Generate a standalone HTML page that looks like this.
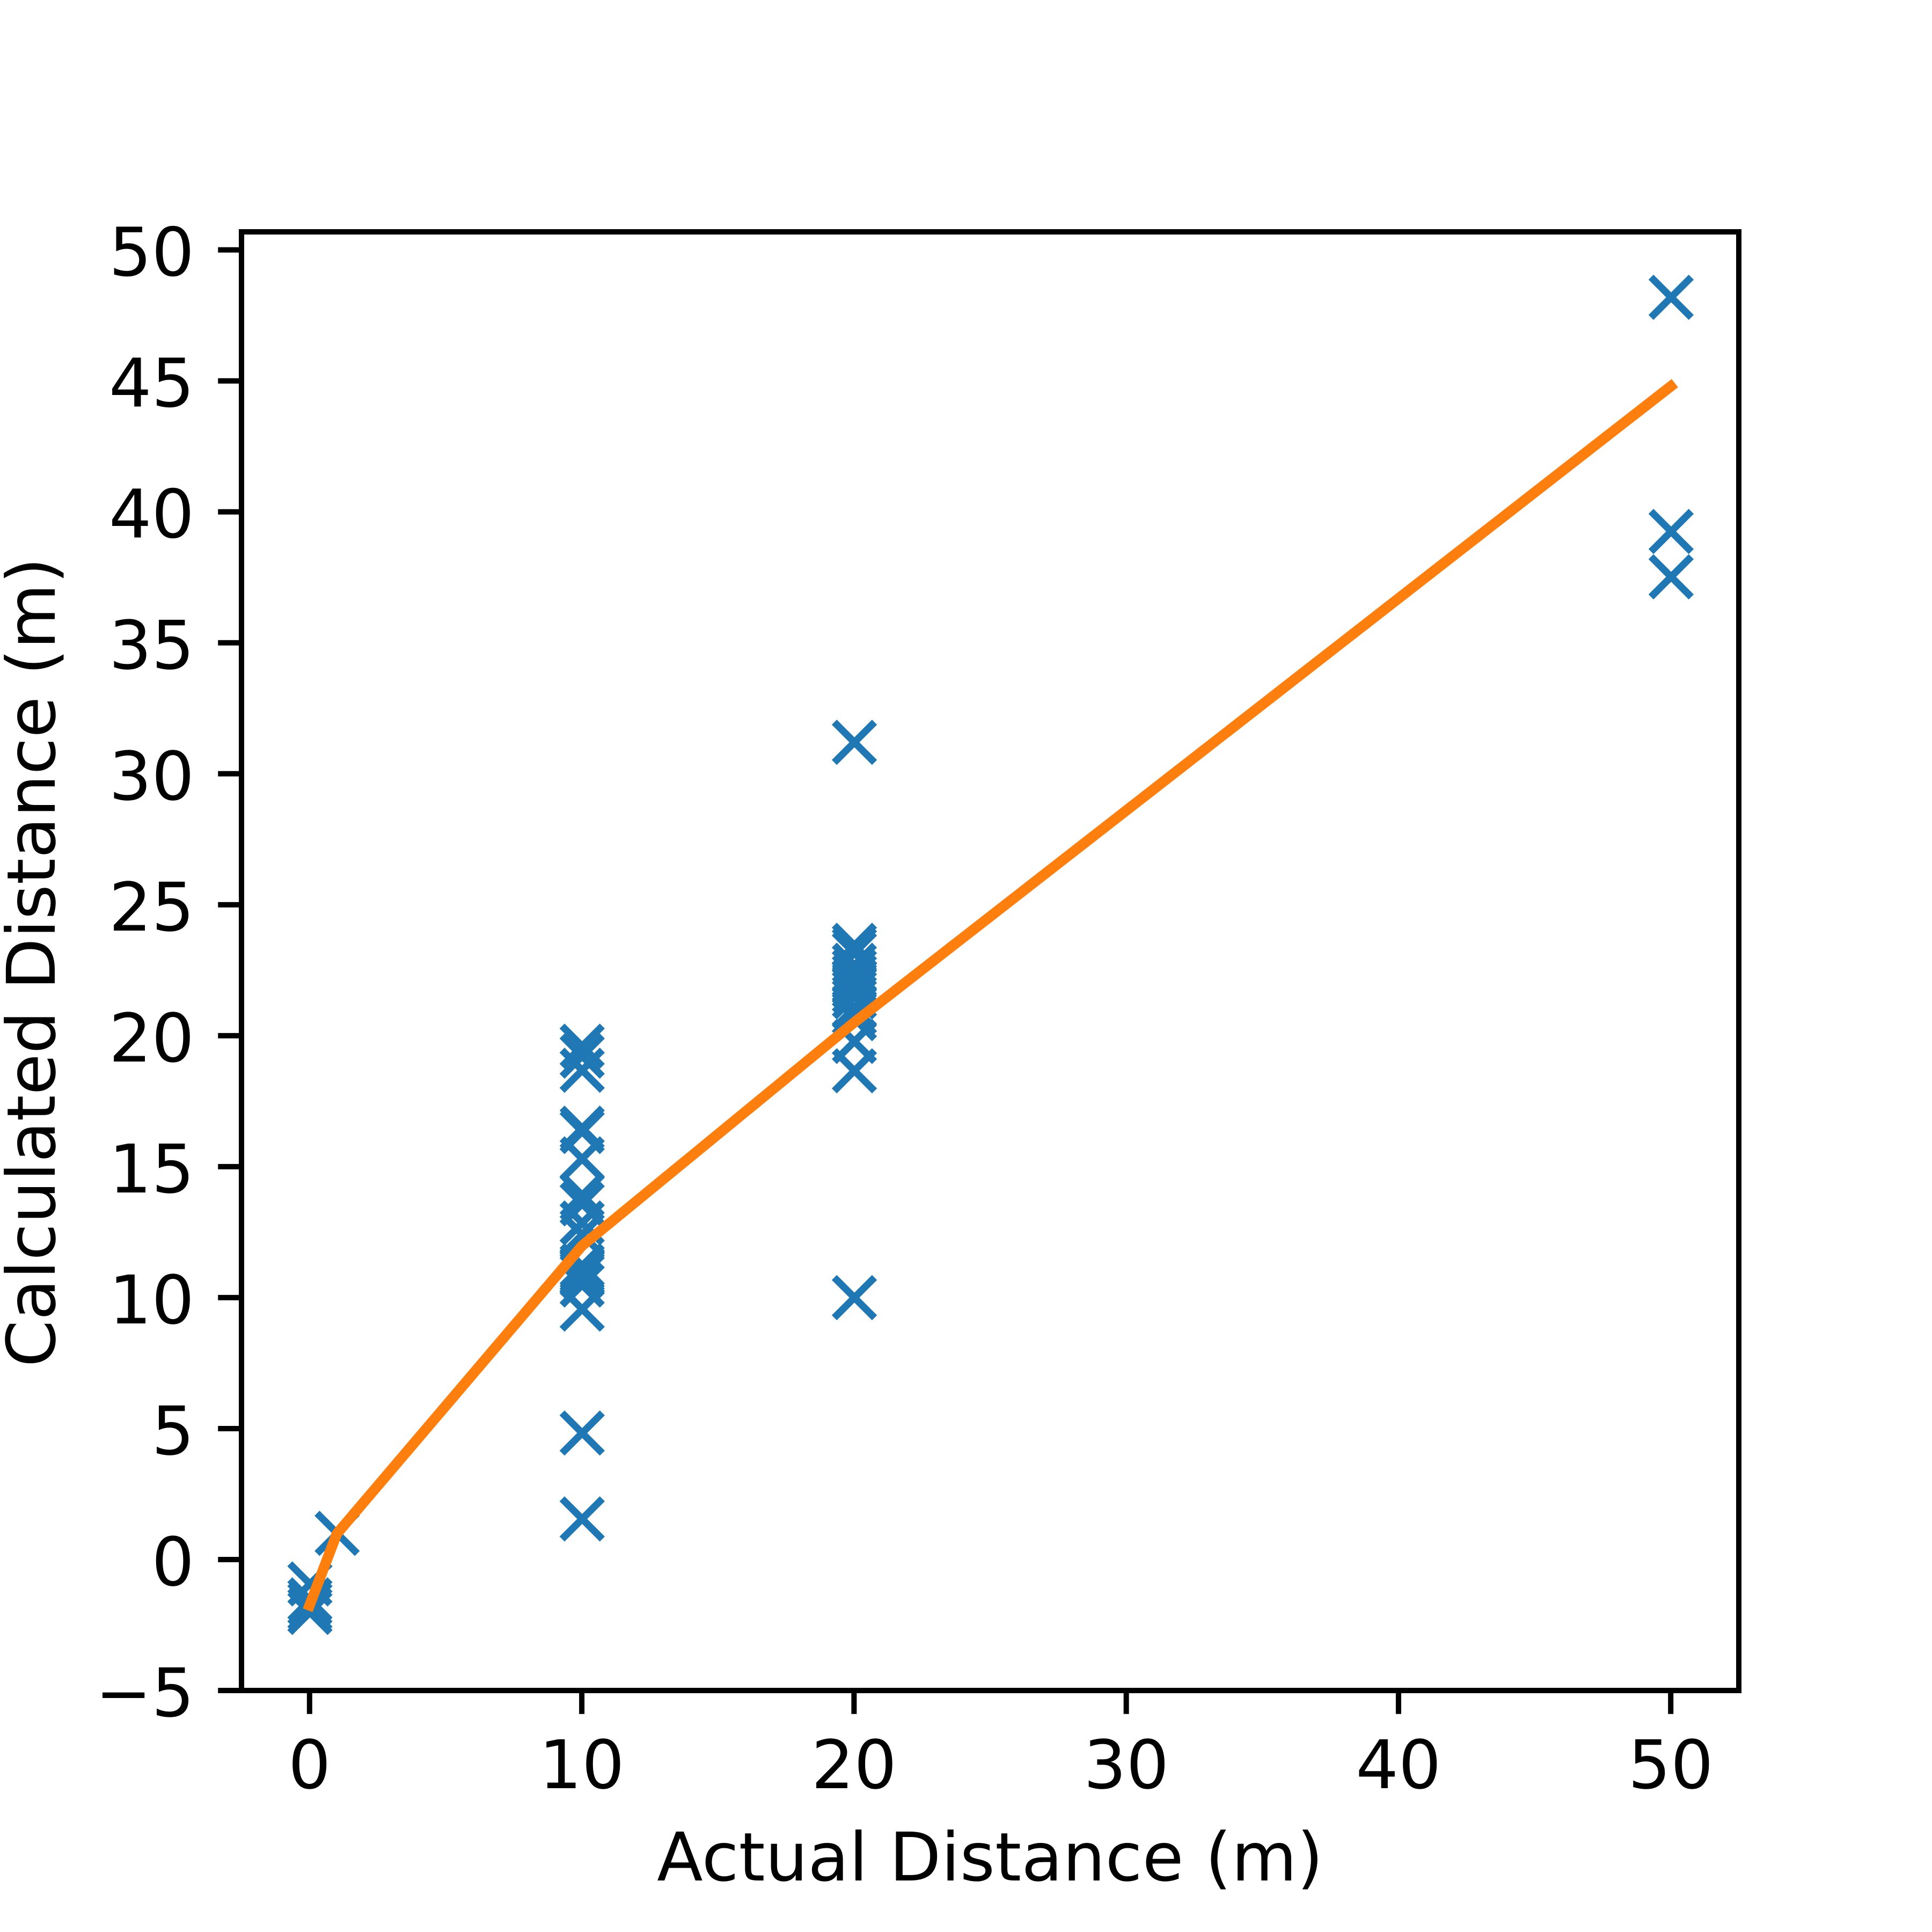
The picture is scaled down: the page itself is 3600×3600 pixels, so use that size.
<!DOCTYPE html>
<html lang="en">
<head>
<meta charset="utf-8">
<title>Calculated vs Actual Distance</title>
<style>
  html, body { margin: 0; padding: 0; background: #fff; width: 3600px; height: 3600px; overflow: hidden; }
  svg { display: block; }
  text { font-family: "DejaVu Sans", "Liberation Sans", sans-serif; font-size: 125px; fill: #000; text-rendering: geometricPrecision; }
</style>
</head>
<body>
<svg id="chart" xmlns="http://www.w3.org/2000/svg" width="3600" height="3600" viewBox="0 0 3600 3600">
  <rect x="0" y="0" width="3600" height="3600" fill="#fff"/>
  <g id="x-ticks"></g>
  <g id="y-ticks"></g>
  <g id="points"></g>
  <path id="fit" fill="none" stroke="#ff7f0e" stroke-width="19.5" stroke-linecap="square" stroke-linejoin="round"/>
  <rect x="450" y="432" width="2790" height="2718" fill="none" stroke="#000" stroke-width="10"/>
  <text x="1845" y="3504" text-anchor="middle" style="letter-spacing:0.25px">Actual Distance (m)</text>
  <text x="0" y="0" text-anchor="middle" transform="translate(102 1793) rotate(-90)">Calculated Distance (m)</text>
</svg>
<script>
const xTickValues = [0, 10, 20, 30, 40, 50];
const xTickLabels = ["0", "10", "20", "30", "40", "50"];
const yTickValues = [-5, 0, 5, 10, 15, 20, 25, 30, 35, 40, 45, 50];
const yTickLabels = ["\u22125", "0", "5", "10", "15", "20", "25", "30", "35", "40", "45", "50"];

const actualDistance = [
  0, 0, 0, 0, 0,
  1,
  10, 10, 10, 10, 10, 10, 10, 10, 10, 10, 10, 10, 10, 10, 10, 10, 10, 10, 10,
  20, 20, 20, 20, 20, 20, 20, 20, 20, 20, 20, 20, 20, 20, 20, 20, 20,
  50, 50, 50
];
const calculatedDistance = [
  -0.93, -1.54, -1.69, -1.89, -2.02,
  1.0,
  19.60, 19.22, 18.68, 16.47, 16.34, 15.30, 13.91, 13.58, 12.85, 12.41, 11.22, 11.12, 11.02, 10.93, 10.84, 10.48, 9.56, 4.83, 1.55,
  31.2, 23.45, 23.31, 23.15, 22.69, 22.48, 22.28, 22.07, 21.87, 21.67, 21.48, 21.07, 20.85, 20.65, 19.78, 18.66, 10.0,
  48.19, 39.25, 37.52
];

const fitActual = [0, 1, 10, 20, 50];
const fitCalculated = [-1.75, 0.98, 11.97, 20.5, 44.79];

const xDomain = [-2.5, 52.5];
const yDomain = [-5, 50.69];

const NS = "http://www.w3.org/2000/svg";
const plotLeft = 450, plotRight = 3240, plotTop = 432, plotBottom = 3150;

function xScale(v) {
  return plotLeft + (v - xDomain[0]) / (xDomain[1] - xDomain[0]) * (plotRight - plotLeft);
}
function yScale(v) {
  return plotBottom - (v - yDomain[0]) / (yDomain[1] - yDomain[0]) * (plotBottom - plotTop);
}

const xTicksGroup = document.getElementById("x-ticks");
xTickValues.forEach(function (v, i) {
  const x = xScale(v);
  const tick = document.createElementNS(NS, "line");
  
  
  tick.setAttribute("x1", x);
  tick.setAttribute("x2", x);
  tick.setAttribute("y1", plotBottom);
  tick.setAttribute("y2", plotBottom + 43.75);
  tick.setAttribute("stroke", "#000");
  tick.setAttribute("stroke-width", "10");
  xTicksGroup.appendChild(tick);
  const label = document.createElementNS(NS, "text");
  
  
  label.setAttribute("x", x);
  label.setAttribute("y", 3332);
  label.setAttribute("text-anchor", "middle");
  label.textContent = xTickLabels[i];
  xTicksGroup.appendChild(label);
});

const yTicksGroup = document.getElementById("y-ticks");
yTickValues.forEach(function (v, i) {
  const y = yScale(v);
  const tick = document.createElementNS(NS, "line");
  
  
  tick.setAttribute("x1", plotLeft - 43.75);
  tick.setAttribute("x2", plotLeft);
  tick.setAttribute("y1", y);
  tick.setAttribute("y2", y);
  tick.setAttribute("stroke", "#000");
  tick.setAttribute("stroke-width", "10");
  yTicksGroup.appendChild(tick);
  const label = document.createElementNS(NS, "text");
  
  
  label.setAttribute("x", 362);
  label.setAttribute("y", y + 48);
  label.setAttribute("text-anchor", "end");
  label.textContent = yTickLabels[i];
  yTicksGroup.appendChild(label);
});

const pointsGroup = document.getElementById("points");
const markerHalf = 37.5;
const markerNudge = 0.7;
actualDistance.forEach(function (v, i) {
  const cx = xScale(v) + markerNudge;
  const cy = yScale(calculatedDistance[i]);
  const mark = document.createElementNS(NS, "path");
  
  
  mark.setAttribute("d",
    "M" + (cx - markerHalf) + " " + (cy - markerHalf) +
    "L" + (cx + markerHalf) + " " + (cy + markerHalf) +
    "M" + (cx - markerHalf) + " " + (cy + markerHalf) +
    "L" + (cx + markerHalf) + " " + (cy - markerHalf));
  mark.setAttribute("fill", "none");
  mark.setAttribute("stroke", "#1f77b4");
  mark.setAttribute("stroke-width", "13.2");
  pointsGroup.appendChild(mark);
});

document.getElementById("fit").setAttribute("d", fitActual.map(function (v, i) {
  return (i ? "L" : "M") + xScale(v) + " " + yScale(fitCalculated[i]);
}).join(""));
</script>
</body>
</html>
